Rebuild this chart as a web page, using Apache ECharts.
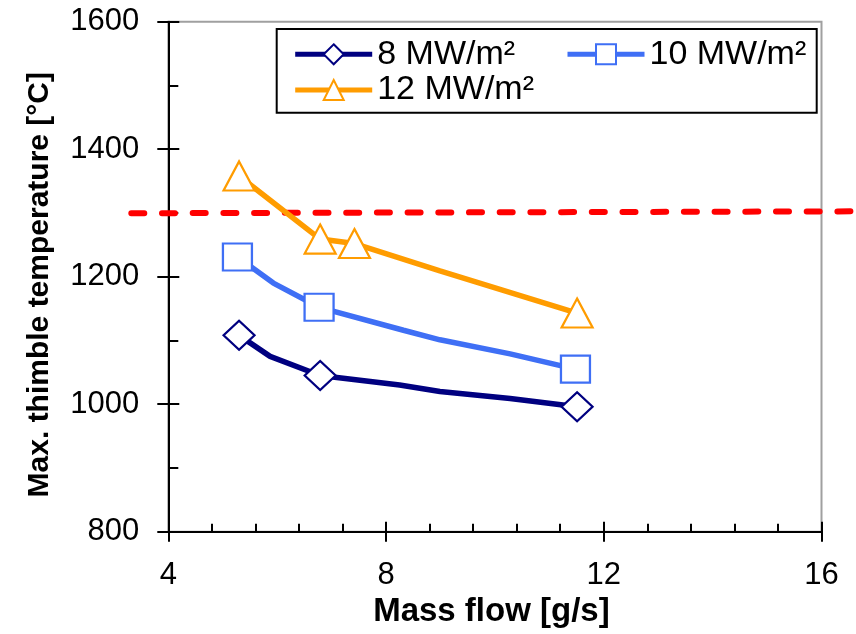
<!DOCTYPE html>
<html>
<head>
<meta charset="utf-8">
<script src="https://cdn.jsdelivr.net/npm/echarts@6/dist/echarts.min.js"></script>
<style>html,body{margin:0;padding:0;background:#fff;}#c{width:856px;height:634px;}</style>
</head>
<body>
<div id="c"></div>
<script>
// ---- data ----
const xTicks = [4, 8, 12, 16];
const yTicks = [800, 1000, 1200, 1400, 1600];
const names = ['8 MW/m²', '10 MW/m²', '12 MW/m²'];
// mass flow [g/s], temperature [°C], marker shown (1) or not (0)
const flow8 = [5.30, 5.87, 6.79, 8.25, 8.99, 10.28, 11.51];
const temp8 = [1108, 1075, 1045, 1030, 1020, 1009, 996];
const mark8 = [1, 0, 1, 0, 0, 0, 1];
const flow10 = [5.27, 5.93, 6.77, 8.32, 8.99, 10.28, 11.48];
const temp10 = [1231, 1190, 1152, 1116, 1101, 1079, 1055];
const mark10 = [1, 0, 1, 0, 0, 0, 1];
const flow12 = [5.30, 6.79, 7.42, 8.99, 11.51];
const temp12 = [1358, 1259, 1252, 1209, 1143];
const mark12 = [1, 1, 1, 0, 1];
// 1300 °C limit line (drawn across the whole figure)
const limitFlow = [3.32, 16.55];
const limitTemp = [1299.5, 1302.5];

const FONT = "'Liberation Sans', Arial, sans-serif";

function build(fl, tp, mk) {
  return fl.map((x, i) => mk[i] ? { value: [x, tp[i]] } : { value: [x, tp[i]], symbol: 'none' });
}

const colors = ['#000080', '#3f6ff5', '#ff9c00'];
const symbols = ['diamond', 'rect', 'triangle'];
const sizes = [[31, 29], [29, 27], [31, 29]];
const datas = [build(flow8, temp8, mark8), build(flow10, temp10, mark10), build(flow12, temp12, mark12)];

const series = names.map((n, i) => ({
  name: n,
  type: 'line',
  xAxisIndex: 0, yAxisIndex: 0,
  data: datas[i],
  symbol: symbols[i],
  symbolSize: sizes[i],
  showAllSymbol: true,
  lineStyle: { color: colors[i], width: 5.5 },
  itemStyle: { color: '#ffffff', borderColor: colors[i], borderWidth: 2.2 },
  z: 3 + i
}));
series.unshift({
  name: 'limit',
  type: 'line',
  xAxisIndex: 2, yAxisIndex: 2,
  data: limitFlow.map((x, i) => [x, limitTemp[i]]),
  symbol: 'none',
  clip: false,
  lineStyle: { color: '#ff0000', width: 6, type: [13, 17.7], cap: 'round' },
  z: 2
});

const legendBase = {
  orient: 'horizontal', padding: 0, itemWidth: 77, itemHeight: 25, itemGap: 5,
  lineStyle: { width: 5 },
  textStyle: { fontSize: 34, color: '#000', fontFamily: FONT }
};

const axisLineStyle = { color: '#000', width: 2 };
const plain = v => String(v);

const option = {
  animation: false,
  backgroundColor: '#fff',
  grid: [
    { left: 168.3, right: 34.5, top: 21.7, bottom: 102.3, show: true, borderColor: '#a0a0a0', borderWidth: 2, containLabel: false, outerBoundsMode: 'none' },
    { left: 131.3, right: 4.6, top: 21.7, bottom: 102.3, show: false, containLabel: false, outerBoundsMode: 'none' }
  ],
  legend: [
    Object.assign({}, legendBase, { data: [names[0]], left: 292.7, top: 37.3 }),
    Object.assign({}, legendBase, { data: [names[1]], left: 565, top: 37.3 }),
    Object.assign({}, legendBase, { data: [names[2]], left: 292.7, top: 73 })
  ],
  graphic: [{
    type: 'rect', z: 10,
    shape: { x: 276.7, y: 29, width: 540, height: 83.7 },
    style: { fill: 'none', stroke: '#000', lineWidth: 2 }
  }],
  xAxis: [
    {
      type: 'value', min: xTicks[0], max: xTicks[xTicks.length - 1], interval: 4, position: 'bottom',
      axisLine: { show: true, onZero: false, lineStyle: axisLineStyle },
      axisTick: { show: true, inside: false, length: 10, lineStyle: axisLineStyle },
      splitLine: { show: false },
      axisLabel: { fontSize: 31, color: '#000', fontFamily: FONT, margin: 28, formatter: plain },
      name: 'Mass flow [g/s]', nameLocation: 'middle', nameGap: 60,
      nameTextStyle: { fontSize: 33, fontWeight: 'bold', color: '#000', fontFamily: FONT, padding: [0, 7, 0, 0] }
    },
    {
      type: 'value', min: xTicks[0], max: xTicks[xTicks.length - 1], interval: 4, position: 'bottom',
      axisLine: { show: false, onZero: false },
      axisTick: { show: true, inside: true, length: 10, lineStyle: axisLineStyle },
      minorTick: { show: true, splitNumber: 5, length: 8, lineStyle: axisLineStyle },
      splitLine: { show: false }, axisLabel: { show: false }
    },
    {
      type: 'value', gridIndex: 1, min: limitFlow[0], max: limitFlow[1], show: false
    }
  ],
  yAxis: [
    {
      type: 'value', min: yTicks[0], max: yTicks[yTicks.length - 1], interval: 200, position: 'left',
      axisLine: { show: true, onZero: false, lineStyle: axisLineStyle },
      axisTick: { show: true, inside: false, length: 11, lineStyle: axisLineStyle },
      splitLine: { show: false },
      axisLabel: { fontSize: 31, color: '#000', fontFamily: FONT, margin: 29, formatter: plain },
      name: 'Max. thimble temperature [°C]', nameLocation: 'middle', nameGap: 114, nameRotate: 90,
      nameTextStyle: { fontSize: 30, fontWeight: 'bold', color: '#000', fontFamily: FONT, padding: [0, 16, 0, 0] }
    },
    {
      type: 'value', min: yTicks[0], max: yTicks[yTicks.length - 1], interval: 200, position: 'left',
      axisLine: { show: false, onZero: false },
      axisTick: { show: true, inside: true, length: 11, lineStyle: axisLineStyle },
      minorTick: { show: true, splitNumber: 2, length: 10, lineStyle: axisLineStyle },
      splitLine: { show: false }, axisLabel: { show: false }
    },
    {
      type: 'value', gridIndex: 1, min: yTicks[0], max: yTicks[yTicks.length - 1], show: false
    }
  ],
  series: series
};

const chart = echarts.init(document.getElementById('c'), null, { renderer: 'canvas' });
chart.setOption(option);
</script>
</body>
</html>
